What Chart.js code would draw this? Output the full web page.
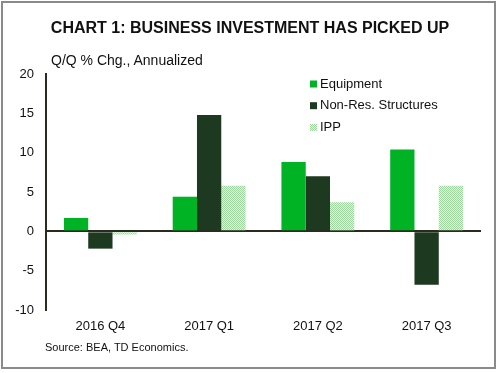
<!DOCTYPE html>
<html lang="en">
<head>
  <meta charset="UTF-8" />
  <title>Business Investment Has Picked Up</title>
  <script src="https://cdn.jsdelivr.net/npm/chart.js"></script>
  <style>
    html, body { margin: 0; padding: 0; background: #fff; }
    body { width: 500px; height: 373px; position: relative; overflow: hidden; font-family: 'Liberation Sans', Arial, sans-serif; color: #111; }
    .frame { position: absolute; left: 1px; top: 1px; width: 491px; height: 364px; border: 2px solid #8a8a8a; }
    .title { position: absolute; left: 0; width: 500px; top: 19px; text-align: center; font-weight: bold; font-size: 16px; }
    .unit { position: absolute; left: 51px; top: 52px; font-size: 14px; }
    .source { position: absolute; left: 45px; top: 341px; font-size: 11px; }
    #wrap { position: absolute; left: 0; top: 0; width: 500px; height: 373px; }
  </style>
</head>
<body>
  <div class="frame"></div>
  <div id="wrap"><canvas id="chart" width="500" height="373"></canvas></div>
  <div class="title">CHART 1: BUSINESS INVESTMENT HAS PICKED UP</div>
  <div class="unit">Q/Q % Chg., Annualized</div>
  <div class="source">Source: BEA, TD Economics.</div>

  <script>
    const quarters = ['2016 Q4', '2017 Q1', '2017 Q2', '2017 Q3'];
    const equipment = [1.7, 4.4, 8.8, 10.4];
    const structures = [-2.2, 14.8, 7.0, -6.8];
    const ipp = [-0.4, 5.8, 3.7, 5.8];
    const seriesNames = ['Equipment', 'Non-Res. Structures', 'IPP'];

    // dotted fill used for IPP
    function dotPattern() {
      const c = document.createElement('canvas');
      c.width = 2; c.height = 2;
      const g = c.getContext('2d');
      g.fillStyle = '#e3f4e3';
      g.fillRect(0, 0, 2, 2);
      g.fillStyle = '#9fd69f';
      g.fillRect(0, 0, 1, 1);
      g.fillRect(1, 1, 1, 1);
      return g.createPattern(c, 'repeat');
    }
    const ippFill = dotPattern();

    const legendBox = {
      id: 'legendBox',
      afterDraw(chart) {
        const ctx = chart.ctx;
        ctx.save();
        ctx.font = '13px "Liberation Sans", Arial, sans-serif';
        ctx.textBaseline = 'middle';
        chart.data.datasets.forEach((ds, i) => {
          const y = 84 + i * 21.7;
          ctx.fillStyle = ds.backgroundColor;
          ctx.fillRect(310, y - 3.5, 7, 7);
          ctx.fillStyle = '#111';
          ctx.fillText(ds.label, 320, y);
        });
        ctx.restore();
      }
    };

    new Chart(document.getElementById('chart'), {
      type: 'bar',
      data: {
        labels: quarters,
        datasets: [
          { label: seriesNames[0], data: equipment, backgroundColor: '#00b324' },
          { label: seriesNames[1], data: structures, backgroundColor: '#1d3a20' },
          { label: seriesNames[2], data: ipp, backgroundColor: ippFill }
        ]
      },
      options: {
        responsive: false,
        animation: false,
        layout: { padding: { left: 0, right: 19, top: 74, bottom: 33 } },
        datasets: { bar: { categoryPercentage: 0.67, barPercentage: 1.0 } },
        plugins: { legend: { display: false }, tooltip: { enabled: false } },
        scales: {
          x: {
            grid: { display: false, drawTicks: false },
            border: { display: false },
            ticks: { color: '#111', padding: 9, font: { size: 13, family: 'Liberation Sans' } },
            afterFit(s) { s.height = 30; }
          },
          y: {
            min: -10, max: 20,
            ticks: { stepSize: 5, color: '#111', padding: 12, font: { size: 13, family: 'Liberation Sans' } },
            grid: {
              drawTicks: false,
              color: c => c.tick && c.tick.value === 0 ? '#2a2a1e' : 'rgba(0,0,0,0)',
              lineWidth: 2
            },
            border: { display: true, color: '#2a2a1e', width: 2 },
            afterFit(s) { s.width = 46; }
          }
        }
      },
      plugins: [legendBox]
    });
  </script>
</body>
</html>
